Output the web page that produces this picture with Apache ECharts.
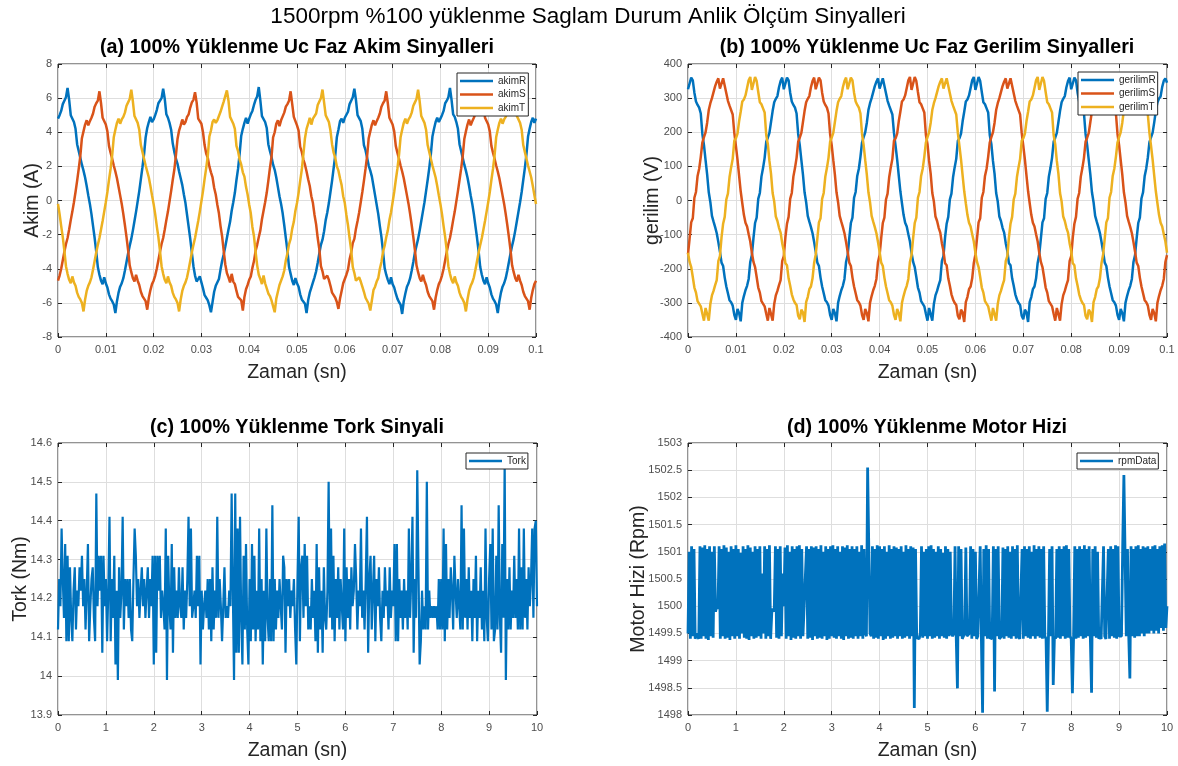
<!DOCTYPE html>
<html>
<head>
<meta charset="utf-8">
<script src="https://cdn.jsdelivr.net/npm/echarts@6/dist/echarts.min.js"></script>
<style>
  html, body { margin: 0; padding: 0; background: #fff; }
  #chart { width: 1178px; height: 766px; }
</style>
</head>
<body>
<div id="chart"></div>
<script>
// Sample spacing of the recorded signals
const waveStep = 0.02 / 60;   // s, phase current / voltage records (60 samples per 50 Hz period)
const slowStep = 0.025;       // s, torque and speed records

// Phase currents (A)
const akimR = [
  4.8, 5.0, 5.25, 5.65, 5.85, 6.05, 6.6, 5.9, 5.0, 4.9,
  4.6, 4.2, 3.3, 2.9, 2.5, 2.1, 1.75, 1.35, 0.85, 0.3,
  -0.2, -0.8, -1.5, -2.2, -3.0, -3.9, -4.35, -4.7, -4.9, -4.5,
  -4.85, -5.1, -5.5, -5.75, -5.9, -6.1, -6.6, -5.9, -5.4, -5.05,
  -4.85, -4.55, -4.1, -3.6, -3.1, -2.65, -2.25, -1.75, -1.2, -0.65,
  -0.05, 0.55, 1.25, 1.95, 2.7, 3.7, 4.25, 4.6, 4.9, 4.6,
  4.75, 5.0, 5.3, 5.7, 5.8, 6.0, 6.55, 5.95, 5.05, 4.85,
  4.55, 4.15, 3.35, 2.85, 2.45, 2.15, 1.7, 1.3, 0.9, 0.35,
  -0.15, -0.85, -1.55, -2.25, -3.05, -3.85, -4.4, -4.75, -4.85, -4.45,
  -4.8, -5.15, -5.55, -5.7, -5.85, -6.15, -6.55, -5.95, -5.35, -5.0,
  -4.9, -4.6, -4.05, -3.55, -3.15, -2.7, -2.2, -1.7, -1.25, -0.6,
  -0.1, 0.45, 1.2, 1.85, 2.75, 3.8, 4.2, 4.55, 4.85, 4.5,
  4.8, 5.05, 5.25, 5.6, 5.9, 6.1, 6.65, 5.85, 4.95, 4.9,
  4.6, 4.25, 3.3, 2.9, 2.55, 2.1, 1.8, 1.35, 0.8, 0.25,
  -0.2, -0.75, -1.45, -2.2, -2.95, -3.9, -4.3, -4.7, -4.95, -4.55,
  -4.85, -5.05, -5.5, -5.8, -5.9, -6.05, -6.6, -5.85, -5.4, -5.1,
  -4.8, -4.5, -4.15, -3.65, -3.1, -2.6, -2.3, -1.8, -1.15, -0.7,
  -0.15, 0.5, 1.15, 1.9, 2.65, 3.7, 4.15, 4.65, 4.8, 4.55,
  4.85, 4.95, 5.2, 5.65, 5.85, 6.05, 6.55, 5.9, 5.0, 4.95,
  4.65, 4.2, 3.25, 2.95, 2.5, 2.05, 1.75, 1.4, 0.85, 0.3,
  -0.25, -0.8, -1.5, -2.15, -3.0, -3.95, -4.35, -4.65, -4.9, -4.5,
  -4.9, -5.1, -5.45, -5.75, -5.95, -6.1, -6.65, -5.9, -5.45, -5.05,
  -4.85, -4.55, -4.1, -3.6, -3.05, -2.65, -2.25, -1.75, -1.2, -0.65,
  -0.1, 0.55, 1.2, 1.9, 2.7, 3.75, 4.2, 4.6, 4.85, 4.6,
  4.8, 5.0, 5.25, 5.7, 5.85, 6.05, 6.6, 5.9, 5.05, 4.9,
  4.6, 4.2, 3.3, 2.9, 2.5, 2.1, 1.75, 1.35, 0.85, 0.3,
  -0.2, -0.8, -1.5, -2.2, -3.0, -3.9, -4.35, -4.7, -4.9, -4.5,
  -4.85, -5.1, -5.5, -5.75, -5.9, -6.1, -6.6, -5.9, -5.4, -5.05,
  -4.85, -4.55, -4.1, -3.6, -3.1, -2.65, -2.25, -1.75, -1.2, -0.65,
  -0.1, 0.5, 1.2, 1.9, 2.7, 3.75, 4.2, 4.6, 4.85, 4.55, 4.8
];
const akimS = [
  -4.7, -4.4, -4.0, -3.5, -3.0, -2.55, -2.2, -1.7, -1.15, -0.65,
  -0.1, 0.5, 1.15, 1.85, 2.6, 3.65, 4.05, 4.45, 4.7, 4.4,
  4.65, 4.85, 5.1, 5.5, 5.7, 5.85, 6.4, 5.7, 4.85, 4.75,
  4.45, 4.05, 3.2, 2.8, 2.45, 2.05, 1.7, 1.3, 0.8, 0.3,
  -0.2, -0.8, -1.45, -2.15, -2.9, -3.8, -4.2, -4.55, -4.75, -4.35,
  -4.7, -4.95, -5.35, -5.6, -5.7, -5.9, -6.4, -5.7, -5.25, -4.9,
  -4.7, -4.4, -4.0, -3.5, -3.0, -2.55, -2.2, -1.7, -1.15, -0.65,
  -0.05, 0.55, 1.2, 1.8, 2.65, 3.6, 4.1, 4.4, 4.75, 4.45,
  4.6, 4.9, 5.05, 5.45, 5.75, 5.9, 6.35, 5.75, 4.8, 4.7,
  4.5, 4.0, 3.25, 2.75, 2.5, 2.0, 1.65, 1.35, 0.75, 0.35,
  -0.25, -0.75, -1.5, -2.1, -2.95, -3.75, -4.25, -4.5, -4.8, -4.3,
  -4.75, -4.9, -5.3, -5.65, -5.75, -5.85, -6.45, -5.65, -5.2, -4.95,
  -4.65, -4.45, -3.95, -3.55, -2.95, -2.6, -2.15, -1.75, -1.1, -0.6,
  -0.1, 0.45, 1.15, 1.9, 2.55, 3.7, 4.0, 4.5, 4.7, 4.35,
  4.7, 4.8, 5.15, 5.5, 5.65, 5.85, 6.4, 5.65, 4.9, 4.8,
  4.4, 4.1, 3.15, 2.85, 2.4, 2.1, 1.7, 1.25, 0.85, 0.25,
  -0.15, -0.85, -1.4, -2.2, -2.85, -3.85, -4.15, -4.6, -4.7, -4.4,
  -4.65, -5.0, -5.4, -5.55, -5.7, -5.95, -6.35, -5.75, -5.3, -4.85,
  -4.75, -4.35, -4.05, -3.45, -3.05, -2.5, -2.25, -1.65, -1.2, -0.7,
  -0.1, 0.5, 1.15, 1.85, 2.6, 3.65, 4.05, 4.45, 4.7, 4.4,
  4.65, 4.85, 5.1, 5.5, 5.7, 5.85, 6.4, 5.7, 4.85, 4.75,
  4.45, 4.05, 3.2, 2.8, 2.45, 2.05, 1.7, 1.3, 0.8, 0.3,
  -0.2, -0.8, -1.45, -2.15, -2.9, -3.8, -4.2, -4.55, -4.75, -4.35,
  -4.7, -4.95, -5.35, -5.6, -5.7, -5.9, -6.4, -5.7, -5.25, -4.9,
  -4.7, -4.4, -4.0, -3.5, -3.0, -2.55, -2.2, -1.7, -1.15, -0.65,
  -0.05, 0.55, 1.2, 1.85, 2.6, 3.6, 4.05, 4.45, 4.75, 4.4,
  4.65, 4.85, 5.1, 5.45, 5.7, 5.9, 6.4, 5.7, 4.85, 4.75,
  4.45, 4.05, 3.2, 2.8, 2.45, 2.05, 1.7, 1.3, 0.8, 0.3,
  -0.2, -0.8, -1.45, -2.15, -2.9, -3.8, -4.2, -4.55, -4.75, -4.35,
  -4.7, -4.95, -5.35, -5.6, -5.7, -5.9, -6.4, -5.7, -5.25, -4.9,
  -4.7
];
const akimT = [
  -0.2, -0.8, -1.5, -2.15, -2.95, -3.85, -4.3, -4.65, -4.85, -4.45,
  -4.8, -5.0, -5.4, -5.65, -5.8, -6.0, -6.5, -5.8, -5.3, -5.0,
  -4.8, -4.5, -4.05, -3.55, -3.05, -2.6, -2.2, -1.7, -1.2, -0.65,
  -0.1, 0.5, 1.2, 1.85, 2.65, 3.7, 4.15, 4.55, 4.8, 4.5,
  4.75, 4.9, 5.15, 5.55, 5.75, 5.95, 6.5, 5.8, 4.95, 4.85,
  4.55, 4.15, 3.25, 2.85, 2.45, 2.05, 1.7, 1.35, 0.85, 0.3,
  -0.2, -0.8, -1.5, -2.15, -2.95, -3.85, -4.3, -4.65, -4.85, -4.45,
  -4.8, -5.0, -5.4, -5.65, -5.8, -6.0, -6.5, -5.8, -5.3, -5.0,
  -4.8, -4.5, -4.05, -3.55, -3.05, -2.6, -2.2, -1.7, -1.2, -0.65,
  -0.05, 0.55, 1.25, 1.9, 2.6, 3.75, 4.1, 4.6, 4.75, 4.55,
  4.7, 4.95, 5.2, 5.5, 5.8, 5.9, 6.45, 5.85, 4.9, 4.9,
  4.5, 4.2, 3.2, 2.9, 2.4, 2.1, 1.65, 1.4, 0.8, 0.35,
  -0.25, -0.75, -1.55, -2.1, -3.0, -3.8, -4.35, -4.6, -4.9, -4.4,
  -4.85, -4.95, -5.45, -5.6, -5.85, -5.95, -6.55, -5.75, -5.35, -4.95,
  -4.85, -4.45, -4.1, -3.5, -3.1, -2.55, -2.25, -1.65, -1.25, -0.6,
  -0.15, 0.45, 1.15, 1.8, 2.7, 3.65, 4.2, 4.5, 4.85, 4.45,
  4.8, 4.85, 5.1, 5.6, 5.7, 6.0, 6.5, 5.75, 5.0, 4.8,
  4.6, 4.1, 3.3, 2.8, 2.5, 2.0, 1.75, 1.3, 0.9, 0.25,
  -0.15, -0.85, -1.45, -2.2, -2.9, -3.9, -4.25, -4.7, -4.8, -4.5,
  -4.75, -5.05, -5.35, -5.7, -5.75, -6.05, -6.45, -5.85, -5.25, -5.05,
  -4.75, -4.55, -4.0, -3.6, -3.0, -2.65, -2.15, -1.75, -1.15, -0.7,
  -0.1, 0.5, 1.2, 1.85, 2.65, 3.7, 4.15, 4.55, 4.8, 4.5,
  4.75, 4.9, 5.15, 5.55, 5.75, 5.95, 6.5, 5.8, 4.95, 4.85,
  4.55, 4.15, 3.25, 2.85, 2.45, 2.05, 1.7, 1.35, 0.85, 0.3,
  -0.2, -0.8, -1.5, -2.15, -2.95, -3.85, -4.3, -4.65, -4.85, -4.45,
  -4.8, -5.0, -5.4, -5.65, -5.8, -6.0, -6.5, -5.8, -5.3, -5.0,
  -4.8, -4.5, -4.05, -3.55, -3.05, -2.6, -2.2, -1.7, -1.2, -0.65,
  -0.1, 0.5, 1.2, 1.85, 2.65, 3.7, 4.15, 4.55, 4.8, 4.5,
  4.75, 4.9, 5.15, 5.55, 5.75, 5.95, 6.5, 5.8, 4.95, 4.85,
  4.55, 4.15, 3.25, 2.85, 2.45, 2.05, 1.7, 1.35, 0.85, 0.3,
  -0.2
];

// Phase voltages (V)
const gerilimR = [
  326, 330, 360, 352, 316, 290, 280, 272, 255, 195,
  162, 118, 76, 24, -5, -45, -62, -78, -96, -122,
  -150, -182, -192, -226, -252, -272, -292, -298, -308, -335,
  -350, -318, -330, -354, -300, -280, -263, -250, -230, -180,
  -160, -110, -66, -50,
  5, 22, 70, 95, 125, 172, 184, 198, 230, 262,
  288, 298, 306, 332, 350, 360, 326, 330, 360, 352,
  316, 290, 280, 272, 255, 195, 162, 118, 76, 24,
  -5, -45, -62, -78, -96, -122, -150, -182, -192, -226,
  -252, -272, -292, -298, -308, -335, -350, -318, -330, -354,
  -300, -280, -263, -250, -230, -180, -160, -110, -66, -50,
  8, 25, 72, 93, 128, 170, 186, 200, 228, 265,
  285, 300, 304, 335, 348, 358, 328, 333, 358, 355,
  314, 292, 278, 274, 252, 198, 160, 120, 73, 27,
  -8, -42, -65, -76, -99, -120, -153, -180, -195, -224,
  -255, -270, -295, -296, -310, -332, -352, -315, -333, -352,
  -303, -278, -265, -248, -233, -178, -163, -108, -68, -48,
  3, 20, 68, 97, 122, 175, 182, 196, 232, 260,
  290, 296, 308, 330, 352, 362, 324, 328, 362, 350,
  318, 288, 282, 270, 258, 192, 165, 116, 78, 22,
  -3, -47, -60, -80, -94, -125, -148, -184, -190, -228,
  -250, -275, -290, -300, -306, -338, -348, -320, -328, -356,
  -298, -283, -260, -252, -228, -183, -158, -112, -64, -52,
  5, 22, 70, 95, 125, 172, 184, 198, 230, 262,
  288, 298, 306, 332, 350, 360, 326, 330, 360, 352,
  316, 290, 280, 272, 255, 195, 162, 118, 76, 24,
  -5, -45, -62, -78, -96, -122, -150, -182, -192, -226,
  -252, -272, -292, -298, -308, -335, -350, -318, -330, -354,
  -300, -280, -263, -250, -230, -180, -160, -110, -66, -50,
  6, 24, 71, 94, 126, 171, 185, 199, 229, 263,
  287, 299, 305, 333, 351, 358, 345
];
const gerilimS = [
  -158, -112, -64, -52,
  8, 25, 72, 93, 128, 170, 186, 200, 228, 265,
  285, 300, 304, 335, 348, 358, 328, 333, 358, 355,
  314, 292, 278, 274, 252, 198, 160, 120, 73, 27,
  -8, -42, -65, -76, -99, -120, -153, -180, -195, -224,
  -255, -270, -295, -296, -310, -332, -352, -315, -333, -352,
  -303, -278, -265, -248, -233, -178, -163, -108, -68, -48,
  5, 22, 70, 95, 125, 172, 184, 198, 230, 262,
  288, 298, 306, 332, 350, 360, 326, 330, 360, 352,
  316, 290, 280, 272, 255, 195, 162, 118, 76, 24,
  -5, -45, -62, -78, -96, -122, -150, -182, -192, -226,
  -252, -272, -292, -298, -308, -335, -350, -318, -330, -354,
  -300, -280, -263, -250, -230, -180, -160, -110, -66, -50,
  3, 20, 68, 97, 122, 175, 182, 196, 232, 260,
  290, 296, 308, 330, 352, 362, 324, 328, 362, 350,
  318, 288, 282, 270, 258, 192, 165, 116, 78, 22,
  -3, -47, -60, -80, -94, -125, -148, -184, -190, -228,
  -250, -275, -290, -300, -306, -338, -348, -320, -328, -356,
  -298, -283, -260, -252, -228, -183, -158, -112, -64, -52,
  8, 25, 72, 93, 128, 170, 186, 200, 228, 265,
  285, 300, 304, 335, 348, 358, 328, 333, 358, 355,
  314, 292, 278, 274, 252, 198, 160, 120, 73, 27,
  -8, -42, -65, -76, -99, -120, -153, -180, -195, -224,
  -255, -270, -295, -296, -310, -332, -352, -315, -333, -352,
  -303, -278, -265, -248, -233, -178, -163, -108, -68, -48,
  5, 22, 70, 95, 125, 172, 184, 198, 230, 262,
  288, 298, 306, 332, 350, 360, 326, 330, 360, 352,
  316, 290, 280, 272, 255, 195, 162, 118, 76, 24,
  -5, -45, -62, -78, -96, -122, -150, -182, -192, -226,
  -252, -272, -292, -298, -308, -335, -350, -318, -330, -354,
  -300, -280, -263, -250, -230, -180, -160
];
const gerilimT = [
  -153, -180, -195, -224, -255, -270, -295, -296, -310, -332,
  -352, -315, -333, -352, -303, -278, -265, -248, -233, -178,
  -163, -108, -68, -48,
  3, 20, 68, 97, 122, 175, 182, 196, 232, 260,
  290, 296, 308, 330, 352, 362, 324, 328, 362, 350,
  318, 288, 282, 270, 258, 192, 165, 116, 78, 22,
  -3, -47, -60, -80, -94, -125, -148, -184, -190, -228,
  -250, -275, -290, -300, -306, -338, -348, -320, -328, -356,
  -298, -283, -260, -252, -228, -183, -158, -112, -64, -52,
  5, 22, 70, 95, 125, 172, 184, 198, 230, 262,
  288, 298, 306, 332, 350, 360, 326, 330, 360, 352,
  316, 290, 280, 272, 255, 195, 162, 118, 76, 24,
  -5, -45, -62, -78, -96, -122, -150, -182, -192, -226,
  -252, -272, -292, -298, -308, -335, -350, -318, -330, -354,
  -300, -280, -263, -250, -230, -180, -160, -110, -66, -50,
  8, 25, 72, 93, 128, 170, 186, 200, 228, 265,
  285, 300, 304, 335, 348, 358, 328, 333, 358, 355,
  314, 292, 278, 274, 252, 198, 160, 120, 73, 27,
  -8, -42, -65, -76, -99, -120, -153, -180, -195, -224,
  -255, -270, -295, -296, -310, -332, -352, -315, -333, -352,
  -303, -278, -265, -248, -233, -178, -163, -108, -68, -48,
  3, 20, 68, 97, 122, 175, 182, 196, 232, 260,
  290, 296, 308, 330, 352, 362, 324, 328, 362, 350,
  318, 288, 282, 270, 258, 192, 165, 116, 78, 22,
  -3, -47, -60, -80, -94, -125, -148, -184, -190, -228,
  -250, -275, -290, -300, -306, -338, -348, -320, -328, -356,
  -298, -283, -260, -252, -228, -183, -158, -112, -64, -52,
  8, 25, 72, 93, 128, 170, 186, 200, 228, 265,
  285, 300, 304, 335, 348, 358, 328, 333, 358, 355,
  314, 292, 278, 274, 252, 198, 160, 120, 73, 27,
  -8, -42, -65, -76, -99, -120, -153
];

// Shaft torque (Nm), two rows per second
const tork = [
  14.12, 14.25, 14.18, 14.38, 14.25, 14.15, 14.34, 14.09, 14.31, 14.09, 14.28, 14.15, 14.09, 14.22, 14.28, 14.12, 14.22, 14.18, 14.28, 14.22,
  14.31, 14.18, 14.25, 14.12, 14.22, 14.34, 14.09, 14.18, 14.25, 14.28, 14.15, 14.09, 14.47, 14.18, 14.31, 14.22, 14.31, 14.06, 14.31, 14.18,
  14.25, 14.09, 14.22, 14.41, 14.09, 14.25, 14.15, 14.31, 14.03, 14.22, 13.99, 14.28, 14.15, 14.22, 14.41, 14.12, 14.25, 14.18, 14.25, 14.15,
  14.25, 14.12, 14.09, 14.25, 14.38, 14.31, 14.18, 14.25, 14.15, 14.22, 14.28, 14.18, 14.25, 14.15, 14.22, 14.28, 14.15, 14.25, 14.18, 14.31,
  14.03, 14.31, 14.06, 14.31, 14.22, 14.31, 14.15, 14.22, 14.18, 14.12, 14.38, 13.99, 14.31, 14.18, 14.12, 14.34, 14.06, 14.28, 14.15, 14.22,
  14.15, 14.28, 14.18, 14.15, 14.28, 14.12, 14.22, 14.15, 14.25, 14.41, 14.18, 14.38, 14.15, 14.18, 14.22, 14.15, 14.31, 14.18, 14.31, 14.03,
  14.22, 14.12, 14.18, 14.22, 14.15, 14.25, 14.12, 14.25, 14.09, 14.28, 14.12, 14.22, 14.15, 14.41, 14.15, 14.25, 14.18, 14.09, 14.18, 14.28,
  14.15, 14.18, 14.15, 14.22, 14.18, 14.47, 14.22, 13.99, 14.47, 14.06, 14.38, 14.06, 14.41, 14.15, 14.03, 14.31, 14.12, 14.34, 14.12, 14.03,
  14.25, 14.09, 14.34, 14.12, 14.31, 14.09, 14.22, 14.12, 14.38, 14.09, 14.25, 14.03, 14.22, 14.09, 14.38, 14.15, 14.09, 14.25, 14.09, 14.44,
  14.09, 14.25, 14.12, 14.22, 14.15, 14.25, 14.18, 14.12, 14.31, 14.28, 14.06, 14.25, 14.18, 14.25, 14.15, 14.22, 14.18, 14.25, 14.12, 14.03,
  14.25, 14.41, 14.09, 14.28, 14.31, 14.15, 14.34, 14.18, 14.31, 14.12, 14.18, 14.12, 14.25, 14.15, 14.22, 14.09, 14.34, 14.06, 14.28, 14.12,
  14.22, 14.06, 14.28, 14.15, 14.12, 14.22, 14.50, 14.15, 14.38, 14.12, 14.31, 14.09, 14.25, 14.15, 14.28, 14.12, 14.25, 14.18, 14.12, 14.38,
  14.09, 14.28, 14.15, 14.25, 14.12, 14.28, 14.18, 14.22, 14.34, 14.25, 14.12, 14.22, 14.18, 14.38, 14.15, 14.22, 14.12, 14.25, 14.41, 14.06,
  14.25, 14.31, 14.12, 14.22, 14.31, 14.09, 14.25, 14.18, 14.28, 14.15, 14.09, 14.22, 14.15, 14.28, 14.18, 14.22, 14.12, 14.28, 14.15, 14.22,
  14.18, 14.34, 14.09, 14.34, 14.09, 14.25, 14.15, 14.22, 14.12, 14.25, 14.15, 14.22, 14.12, 14.38, 14.15, 14.25, 14.41, 14.06, 14.25, 14.15,
  14.53, 14.28, 14.03, 14.09, 14.22, 14.12, 14.18, 14.12, 14.50, 14.12, 14.22, 14.15, 14.18, 14.15, 14.18, 14.15, 14.18, 14.12, 14.25, 14.12,
  14.25, 14.12, 14.38, 14.09, 14.34, 14.12, 14.25, 14.15, 14.28, 14.22, 14.12, 14.31, 14.22, 14.15, 14.25, 14.18, 14.12, 14.44, 14.12, 14.38,
  14.15, 14.25, 14.12, 14.28, 14.15, 14.22, 14.09, 14.25, 14.15, 14.31, 14.09, 14.22, 14.15, 14.28, 14.12, 14.22, 14.09, 14.38, 14.15, 14.09,
  14.25, 14.34, 14.12, 14.38, 14.09, 14.12, 14.31, 14.12, 14.44, 14.15, 14.06, 14.34, 14.15, 14.55, 13.99, 14.25, 14.12, 14.28, 14.12, 14.22,
  14.15, 14.31, 14.15, 14.25, 14.12, 14.38, 14.12, 14.28, 14.12, 14.38, 14.15, 14.25, 14.12, 14.28, 14.18, 14.25, 14.38, 14.15, 14.38, 14.40,
  14.18
];

// Motor speed (rpm), 8 samples per row
const rpmData = [
  1499.5, 1501.0, 1499.4, 1501.1, 1499.45, 1501.05, 1499.4, 1499.5,
  1499.45, 1499.4, 1501.1, 1499.4, 1501.08, 1499.45, 1501.12, 1499.4,
  1501.05, 1499.38, 1501.1, 1499.45, 1501.0, 1499.42, 1501.1, 1499.9,
  1500.0, 1499.95, 1501.1, 1499.4, 1501.05, 1499.45, 1501.12, 1499.4,
  1501.08, 1499.42, 1501.0, 1499.38, 1501.1, 1499.45, 1501.05, 1499.4,
  1501.12, 1499.45, 1501.05, 1499.4, 1500.98, 1499.5, 1501.1, 1499.42,
  1501.05, 1499.4, 1501.12, 1499.38, 1501.08, 1499.45, 1501.0, 1499.4,
  1501.1, 1499.42, 1501.05, 1499.45, 1501.1, 1499.4, 1500.6, 1499.5,
  1501.1, 1499.4, 1501.05, 1499.45, 1501.12, 1499.4, 1499.9, 1499.95,
  1499.9, 1501.1, 1499.42, 1501.05, 1499.4, 1501.1, 1499.45, 1500.6,
  1500.0, 1501.08, 1499.4, 1501.12, 1499.45, 1501.0, 1499.38, 1501.1,
  1499.42, 1501.05, 1499.4, 1501.1, 1499.45, 1501.12, 1499.4, 1501.05,
  1499.45, 1500.0, 1500.0, 1501.1, 1499.4, 1501.05, 1499.42, 1501.1,
  1499.38, 1501.08, 1499.45, 1501.1, 1499.4, 1501.05, 1499.42, 1501.12,
  1499.4, 1501.0, 1499.45, 1501.1, 1499.38, 1501.05, 1499.4, 1501.1,
  1499.45, 1501.12, 1499.42, 1501.05, 1499.4, 1501.1, 1499.45, 1501.0,
  1499.4, 1501.1, 1499.38, 1501.08, 1499.45, 1501.12, 1499.4, 1501.05,
  1499.42, 1501.1, 1499.4, 1501.05, 1499.45, 1501.1, 1499.4, 1501.0,
  1499.45, 1501.12, 1499.4, 1501.05, 1499.5, 1499.45, 1502.55, 1502.57,
  1499.5, 1499.45, 1501.1, 1499.4, 1501.05, 1499.42, 1501.12, 1499.4,
  1501.1, 1499.45, 1501.05, 1499.38, 1501.1, 1499.4, 1501.0, 1499.45,
  1501.12, 1499.4, 1501.05, 1499.42, 1501.1, 1499.45, 1501.08, 1499.4,
  1501.05, 1499.45, 1501.1, 1499.4, 1501.0, 1499.42, 1501.12, 1499.45,
  1501.05, 1499.4, 1501.1, 1499.45, 1501.08, 1498.13, 1501.05, 1499.42,
  1499.45, 1499.4, 1499.5, 1501.1, 1499.42, 1501.0, 1499.45, 1501.05,
  1499.4, 1501.1, 1499.45, 1501.12, 1499.4, 1501.05, 1499.42, 1501.0,
  1499.45, 1501.1, 1499.4, 1501.05, 1499.45, 1500.98, 1499.42, 1501.1,
  1499.4, 1501.05, 1499.45, 1501.0, 1499.5, 1499.45, 1499.5, 1501.1,
  1499.42, 1498.49, 1501.1, 1499.45, 1501.05, 1499.4, 1499.45, 1499.5,
  1501.08, 1499.45, 1499.42, 1499.5, 1501.1, 1499.4, 1501.05, 1499.45,
  1501.0, 1499.4, 1499.45, 1499.42, 1501.1, 1499.4, 1498.04, 1501.05,
  1499.45, 1501.12, 1499.4, 1501.05, 1499.42, 1499.45, 1499.4, 1501.1,
  1498.43, 1501.05, 1499.45, 1501.1, 1499.4, 1499.42, 1499.45, 1501.08,
  1499.4, 1501.05, 1499.45, 1501.1, 1499.42, 1501.0, 1499.4, 1501.1,
  1499.45, 1501.05, 1499.4, 1501.12, 1499.45, 1499.4, 1499.42, 1501.05,
  1499.4, 1501.1, 1499.45, 1501.05, 1499.42, 1501.1, 1499.4, 1501.0,
  1499.45, 1501.12, 1499.4, 1501.05, 1499.45, 1501.1, 1499.42, 1501.05,
  1499.4, 1501.1, 1499.45, 1499.4, 1498.06, 1499.42, 1501.05, 1499.45,
  1501.1, 1498.55, 1499.45, 1499.4, 1501.05, 1499.42, 1501.1, 1499.4,
  1501.05, 1499.45, 1501.1, 1499.4, 1501.12, 1499.42, 1501.05, 1499.45,
  1499.4, 1498.4, 1499.45, 1501.1, 1499.4, 1501.05, 1499.42, 1501.1,
  1499.45, 1501.05, 1499.4, 1501.12, 1499.42, 1501.05, 1499.45, 1501.1,
  1499.4, 1498.41, 1501.05, 1499.45, 1501.1, 1499.42, 1501.0, 1499.4,
  1499.45, 1499.4, 1499.42, 1501.1, 1499.45, 1499.4, 1499.42, 1501.05,
  1499.4, 1501.1, 1499.45, 1501.05, 1499.42, 1501.12, 1499.4, 1501.1,
  1499.45, 1499.42, 1499.45, 1501.1, 1502.41, 1502.4, 1499.45, 1501.05,
  1499.5, 1498.67, 1501.1, 1499.45, 1501.05, 1499.42, 1501.1, 1499.45,
  1501.12, 1499.45, 1501.05, 1499.5, 1501.1, 1499.45, 1501.08, 1499.5,
  1501.1, 1499.5, 1501.05, 1499.55, 1501.1, 1499.5, 1501.12, 1499.55,
  1501.05, 1499.5, 1501.1, 1499.6, 1501.12, 1499.55, 1501.15, 1499.6,
  1500.0
];

// Axis ranges and tick spacing per panel
const xTicksFast = { min: 0, max: 0.1, interval: 0.01, digits: 2 };
const xTicksSlow = { min: 0, max: 10, interval: 1, digits: 0 };
const yTicks = [
  { min: -8, max: 8, interval: 2, digits: 0 },
  { min: -400, max: 400, interval: 100, digits: 0 },
  { min: 13.9, max: 14.6, interval: 0.1, digits: 1 },
  { min: 1498, max: 1503, interval: 0.5, digits: 1 }
];

const BLUE = '#0072BD', ORANGE = '#D95319', YELLOW = '#EDB120';
const FONT = '"Liberation Sans", Arial, Helvetica, sans-serif';
const AX = '#262626';
const LABEL = '#4d4d4d';
const GRIDLINE = '#dedede';
const LEGEND_LINE = 'path://M0,0L33,0L33,2.5L0,2.5Z';

function toPairs(values, step) {
  return values.map((v, i) => [Number((i * step).toFixed(7)), v]);
}

const grids = [
  { left: 58, top: 64, width: 478, height: 273 },
  { left: 688, top: 64, width: 479, height: 273 },
  { left: 58, top: 443, width: 479, height: 272 },
  { left: 688, top: 443, width: 479, height: 272 }
].map(g => Object.assign({ show: true, borderColor: AX, borderWidth: 1, backgroundColor: '#fff' }, g));

function fmt(digits) {
  return v => String(Number(v.toFixed(digits)));
}

function xAxisFor(gridIndex, t, name, mirror) {
  return {
    type: 'value', gridIndex, min: t.min, max: t.max, interval: t.interval,
    position: mirror ? 'top' : 'bottom',
    name: mirror ? '' : name, nameLocation: 'middle', nameGap: 26, nameMoveOverlap: false,
    nameTextStyle: { fontFamily: FONT, fontSize: 19.5, color: AX },
    axisLine: { show: false, onZero: false },
    axisTick: { show: true, inside: true, length: 4, lineStyle: { color: AX, width: 1 } },
    axisLabel: { show: !mirror, margin: 7, fontFamily: FONT, fontSize: 11, color: LABEL, formatter: fmt(t.digits) },
    splitLine: { show: !mirror, lineStyle: { color: GRIDLINE, width: 1 } }
  };
}

function yAxisFor(gridIndex, t, name, gap, mirror) {
  return {
    type: 'value', gridIndex, min: t.min, max: t.max, interval: t.interval,
    position: mirror ? 'right' : 'left',
    name: mirror ? '' : name, nameLocation: 'middle', nameGap: gap, nameMoveOverlap: false,
    nameTextStyle: { fontFamily: FONT, fontSize: 19.5, color: AX },
    axisLine: { show: false, onZero: false },
    axisTick: { show: true, inside: true, length: 4, lineStyle: { color: AX, width: 1 } },
    axisLabel: { show: !mirror, margin: 6, fontFamily: FONT, fontSize: 11, color: LABEL, formatter: fmt(t.digits) },
    splitLine: { show: !mirror, lineStyle: { color: GRIDLINE, width: 1 } }
  };
}

const xNames = ['Zaman (sn)', 'Zaman (sn)', 'Zaman (sn)', 'Zaman (sn)'];
const yNames = ['Akim (A)', 'gerilim (V)', 'Tork (Nm)', 'Motor Hizi (Rpm)'];
const yGaps = [15, 25, 27.5, 39.5];
const xTickSets = [xTicksFast, xTicksFast, xTicksSlow, xTicksSlow];

const xAxes = [], yAxes = [];
for (let i = 0; i < 4; i++) xAxes.push(xAxisFor(i, xTickSets[i], xNames[i], false));
for (let i = 0; i < 4; i++) xAxes.push(xAxisFor(i, xTickSets[i], '', true));
for (let i = 0; i < 4; i++) yAxes.push(yAxisFor(i, yTicks[i], yNames[i], yGaps[i], false));
for (let i = 0; i < 4; i++) yAxes.push(yAxisFor(i, yTicks[i], '', 0, true));

function lineSeries(name, values, step, panel, color, width) {
  return {
    type: 'line', name, data: toPairs(values, step),
    xAxisIndex: panel, yAxisIndex: panel,
    showSymbol: false, symbol: 'none',
    lineStyle: { color, width }, itemStyle: { color },
    emphasis: { disabled: true }, animation: false
  };
}

function legendFor(names, left, top) {
  return {
    data: names.map(n => ({ name: n, icon: LEGEND_LINE })),
    orient: 'vertical', left, top,
    itemWidth: 33, itemHeight: 10, itemGap: 3.5,
    padding: [3, 2, 3, 3],
    borderColor: AX, borderWidth: 1, borderRadius: 0, backgroundColor: '#fff',
    selectedMode: false,
    textStyle: { fontFamily: FONT, fontSize: 10, color: AX }
  };
}

function titleText(text, x, y, size, weight) {
  return {
    type: 'text', x, y, z: 100,
    style: { text, fill: '#000', font: `${weight} ${size}px ${FONT}`, align: 'center', verticalAlign: 'middle' }
  };
}

const chart = echarts.init(document.getElementById('chart'), null, { renderer: 'canvas' });
chart.setOption({
  animation: false,
  backgroundColor: '#fff',
  grid: grids,
  xAxis: xAxes,
  yAxis: yAxes,
  legend: [
    legendFor(['akimR', 'akimS', 'akimT'], 457, 73),
    legendFor(['gerilimR', 'gerilimS', 'gerilimT'], 1078, 72),
    legendFor(['Tork'], 466, 453),
    legendFor(['rpmData'], 1077, 453)
  ],
  graphic: [
    titleText('1500rpm %100 yüklenme Saglam Durum Anlik Ölçüm Sinyalleri', 588, 17, 22.5, 'normal'),
    titleText('(a) 100% Yüklenme Uc Faz Akim Sinyalleri', 297, 48, 19.7, 'bold'),
    titleText('(b) 100% Yüklenme Uc Faz Gerilim Sinyalleri', 927, 48, 19.7, 'bold'),
    titleText('(c) 100% Yüklenme Tork Sinyali', 297, 428, 19.7, 'bold'),
    titleText('(d) 100% Yüklenme Motor Hizi', 927, 428, 19.7, 'bold')
  ],
  series: [
    lineSeries('akimR', akimR, waveStep, 0, BLUE, 2.5),
    lineSeries('akimS', akimS, waveStep, 0, ORANGE, 2.5),
    lineSeries('akimT', akimT, waveStep, 0, YELLOW, 2.5),
    lineSeries('gerilimR', gerilimR, waveStep, 1, BLUE, 2.5),
    lineSeries('gerilimS', gerilimS, waveStep, 1, ORANGE, 2.5),
    lineSeries('gerilimT', gerilimT, waveStep, 1, YELLOW, 2.5),
    lineSeries('Tork', tork, slowStep, 2, BLUE, 2.2),
    lineSeries('rpmData', rpmData, slowStep, 3, BLUE, 2.8)
  ]
});
</script>
</body>
</html>
